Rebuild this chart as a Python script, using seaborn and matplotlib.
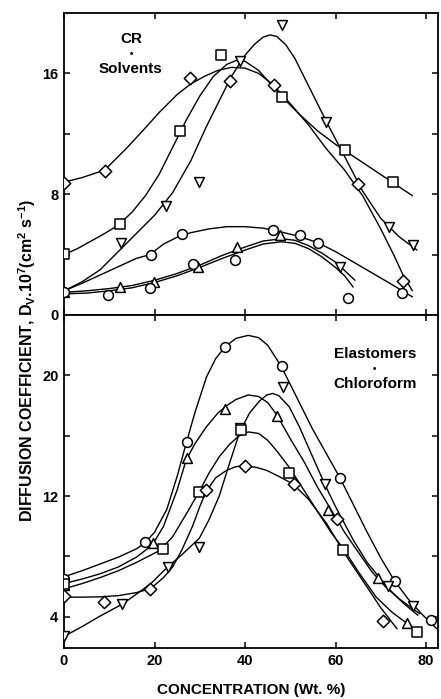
import matplotlib
matplotlib.use('Agg')
import matplotlib.pyplot as plt
import seaborn as sns

# ---------------- top panel: CR + solvents ----------------
# fitted curves
top_A_x = [0, 4, 9, 14, 18, 21, 25, 28, 31, 34, 37, 40, 43, 46, 50, 54, 58, 62, 66, 70, 73, 75, 77]
top_A_y = [8.8, 9.1, 9.6, 11.1, 12.4, 13.4, 14.6, 15.3, 15.8, 16.2, 16.4, 16.35, 16.0, 15.3, 14.0, 12.6, 11.0, 9.6, 7.9, 5.7, 3.9, 2.6, 1.6]
top_B_x = [0, 3, 6, 9, 12, 15, 18, 21, 24, 27, 30, 33, 36, 38, 40, 43, 46, 49, 52, 56, 60, 64, 68, 72, 77]
top_B_y = [4.0, 4.4, 4.9, 5.4, 5.95, 6.8, 7.9, 9.3, 11.1, 12.9, 14.5, 15.8, 16.6, 16.85, 16.8, 16.2, 15.2, 14.2, 13.3, 12.2, 11.3, 10.5, 9.7, 8.9, 7.9]
top_C_x = [0, 4, 8, 12, 16, 20, 24, 28, 31.5, 34, 37, 40, 42, 44, 45.5, 47, 49, 51, 54, 58, 62, 66, 70, 74, 78]
top_C_y = [1.6, 2.2, 3.0, 4.2, 5.4, 6.6, 8.1, 10.2, 12.5, 14.0, 15.8, 17.2, 17.9, 18.4, 18.55, 18.45, 17.9, 17.0, 15.2, 12.8, 10.5, 8.2, 6.4, 5.2, 4.3]
top_D_x = [0, 4, 8, 12, 16, 19, 22, 25, 28, 32, 36, 40, 44, 48, 52, 56, 60, 64, 68, 72, 77]
top_D_y = [1.6, 2.1, 2.65, 3.2, 3.75, 4.0, 4.7, 5.15, 5.45, 5.7, 5.85, 5.85, 5.75, 5.5, 5.2, 4.8, 4.2, 3.5, 2.8, 2.1, 1.2]
top_E_x = [0, 5, 10, 15, 20, 25, 30, 35, 40, 44, 48, 51, 54, 57, 60, 62, 64.3]
top_E_y = [1.5, 1.6, 1.75, 1.95, 2.3, 2.75, 3.3, 3.95, 4.5, 4.9, 5.05, 4.95, 4.6, 4.1, 3.5, 2.95, 2.3]
top_F_x = [0, 5, 10, 15, 20, 25, 30, 35, 40, 44, 48, 51, 54, 57, 60, 62, 63.9]
top_F_y = [1.4, 1.45, 1.6, 1.8, 2.15, 2.6, 3.15, 3.75, 4.3, 4.7, 4.85, 4.75, 4.4, 3.85, 3.15, 2.6, 1.85]

# measured points
top_dia_x = [0, 9.1, 27.8, 36.7, 46.3, 65.0, 75.0]
top_dia_y = [8.76, 9.56, 15.7, 15.5, 15.2, 8.65, 2.25]
top_sq_x = [0, 12.4, 25.6, 34.7, 48.1, 62.1, 72.8]
top_sq_y = [4.04, 6.03, 12.2, 17.2, 14.46, 10.9, 8.79]
top_dtri_x = [12.7, 22.5, 29.8, 38.9, 48.1, 58.0, 61.0, 71.8, 77.2]
top_dtri_y = [4.75, 7.2, 8.83, 16.8, 19.2, 12.8, 3.2, 5.85, 4.64]
top_utri_x = [0, 12.4, 19.9, 29.6, 38.2, 47.7]
top_utri_y = [1.55, 1.83, 2.2, 3.2, 4.52, 5.3]
top_circ_x = [0, 9.8, 18.9, 19.2, 26.0, 28.4, 37.8, 46.1, 52.2, 56.2, 62.8, 74.6]
top_circ_y = [1.5, 1.32, 1.77, 3.97, 5.34, 3.35, 3.64, 5.63, 5.3, 4.79, 1.1, 1.43]

# ---------------- bottom panel: elastomers + chloroform ----------------
bot_G_x = [0, 4, 8, 12, 16, 17.9, 20, 22.7, 25, 27, 29, 31.5, 33.5, 35.6, 38, 40.7, 43, 45, 48, 51, 55, 58, 61, 64, 67, 70, 73, 76, 79, 82.4]
bot_G_y = [6.65, 7.05, 7.5, 7.95, 8.5, 8.9, 9.6, 11.1, 13.3, 15.5, 17.6, 19.9, 21.1, 21.9, 22.45, 22.65, 22.5, 22.0, 20.6, 18.8, 16.4, 14.8, 13.2, 11.4, 9.6, 7.9, 6.4, 5.2, 4.2, 3.2]
bot_H_x = [0, 4, 8, 12, 16, 19.5, 22, 25, 27, 29, 31.5, 34, 36, 38, 40.7, 43, 45, 47, 50, 53, 56, 59, 62, 65, 68, 71, 74, 78.6]
bot_H_y = [6.2, 6.5, 6.85, 7.3, 7.95, 8.75, 10.0, 12.4, 14.4, 15.5, 16.6, 17.5, 18.0, 18.4, 18.7, 18.6, 18.2, 17.4, 15.8, 14.3, 12.6, 11.1, 9.6, 8.3, 7.0, 6.0, 5.2, 4.2]
bot_I_x = [0, 4, 8, 12.9, 16, 19.2, 22.9, 26, 29.9, 32, 34.3, 36.5, 38.9, 41, 43.2, 44.8, 46.1, 47.5, 49.8, 52, 54.5, 57.6, 60, 63.9, 67, 71.6, 75, 78.2]
bot_I_y = [2.7, 3.35, 4.05, 4.84, 5.5, 6.2, 7.3, 8.1, 9.2, 10.4, 12.0, 14.1, 16.3, 17.5, 18.3, 18.7, 18.8, 18.65, 17.9, 16.6, 14.9, 12.8, 11.3, 9.1, 7.6, 5.9, 4.9, 4.1]
bot_K_x = [0, 4, 8, 12, 16, 21.2, 24, 27, 29.9, 32, 34.3, 36.5, 38.5, 40.7, 43, 45, 47, 49.8, 53, 56.4, 59, 62, 65, 69, 72.5, 76.5]
bot_K_y = [5.85, 6.2, 6.6, 7.05, 7.6, 8.4, 9.3, 10.8, 12.3, 13.5, 14.6, 15.4, 15.95, 16.25, 16.15, 15.7, 15.0, 13.9, 12.4, 10.8, 9.6, 8.4, 7.0, 5.3, 4.3, 3.4]
bot_J_x = [0, 4, 8, 12, 16, 19.2, 22, 24, 26, 28.4, 30, 31.4, 33.5, 35.9, 38, 40.1, 42.5, 44.8, 47.5, 50.6, 54, 58, 62, 66.9, 70, 73.6]
bot_J_y = [5.3, 5.3, 5.32, 5.4, 5.6, 5.88, 6.6, 7.3, 8.4, 10.0, 11.3, 12.3, 13.2, 13.7, 13.95, 14.0, 13.9, 13.7, 13.3, 12.8, 11.8, 10.2, 8.2, 6.0, 4.6, 3.2]

bot_circ_x = [0, 17.9, 27.1, 35.6, 48.1, 61.0, 73.1, 81.0]
bot_circ_y = [6.5, 8.97, 15.6, 21.9, 20.6, 13.2, 6.4, 3.8]
bot_utri_x = [0, 19.6, 27.1, 35.6, 47.0, 58.4, 69.5, 75.7]
bot_utri_y = [6.1, 8.86, 14.5, 17.8, 17.3, 11.1, 6.6, 3.6]
bot_dtri_x = [0, 12.9, 22.9, 29.9, 38.9, 48.3, 57.6, 71.7, 77.2]
bot_dtri_y = [2.7, 4.84, 7.3, 8.64, 16.5, 19.2, 12.8, 6.03, 4.73]
bot_sq_x = [0, 21.8, 29.9, 39.1, 49.8, 61.7, 77.9]
bot_sq_y = [6.2, 8.5, 12.3, 16.4, 13.5, 8.4, 3.0]
bot_dia_x = [0, 8.9, 19.1, 31.4, 40.1, 50.8, 60.3, 70.6]
bot_dia_y = [5.35, 5.0, 5.85, 12.4, 14.0, 12.8, 10.45, 3.74]

x_ticks = [0, 20, 40, 60, 80]
top_yticks = [0, 4, 8, 12, 16]
top_yticklabels = ['0', '', '8', '', '16']
bot_yticks = [4, 8, 12, 16, 20]
bot_yticklabels = ['4', '', '12', '', '20']

# ---------------- style ----------------
sns.set_style('ticks', {'xtick.direction': 'in', 'ytick.direction': 'in'})
plt.rcParams['font.family'] = ['Liberation Sans', 'DejaVu Sans']
plt.rcParams['font.weight'] = 'bold'
plt.rcParams['mathtext.fontset'] = 'custom'
plt.rcParams['mathtext.rm'] = 'Liberation Sans:bold'
plt.rcParams['mathtext.it'] = 'Liberation Sans:bold'
plt.rcParams['mathtext.bf'] = 'Liberation Sans:bold'
for k in ['text.color', 'axes.labelcolor', 'xtick.color', 'ytick.color',
          'axes.edgecolor', 'xtick.labelcolor', 'ytick.labelcolor']:
    plt.rcParams[k] = 'black'

W, H = 441, 699
fig = plt.figure(figsize=(W / 100, H / 100), dpi=100)
L, R = 64, 438
ax1 = fig.add_axes([L / W, 1 - 315 / H, (R - L) / W, (315 - 13) / H])
ax2 = fig.add_axes([L / W, 1 - 648 / H, (R - L) / W, (648 - 315) / H])


def curve(ax, x, y):
    sns.lineplot(x=x, y=y, ax=ax, color='black', linewidth=1.0, sort=False,
                 estimator=None, zorder=2)


def pts(ax, x, y, m, s):
    sns.scatterplot(x=x, y=y, ax=ax, marker=m, s=s, color='white',
                    edgecolor='black', linewidth=1.1, zorder=3)


for cx, cy in [(top_A_x, top_A_y), (top_B_x, top_B_y), (top_C_x, top_C_y),
               (top_D_x, top_D_y), (top_E_x, top_E_y), (top_F_x, top_F_y)]:
    curve(ax1, cx, cy)
pts(ax1, top_dia_x, top_dia_y, 'D', 40)
pts(ax1, top_sq_x, top_sq_y, 's', 50)
pts(ax1, top_dtri_x, top_dtri_y, 'v', 50)
pts(ax1, top_utri_x, top_utri_y, '^', 50)
pts(ax1, top_circ_x, top_circ_y, 'o', 50)

for cx, cy in [(bot_G_x, bot_G_y), (bot_H_x, bot_H_y), (bot_I_x, bot_I_y),
               (bot_K_x, bot_K_y), (bot_J_x, bot_J_y)]:
    curve(ax2, cx, cy)
pts(ax2, bot_circ_x, bot_circ_y, 'o', 50)
pts(ax2, bot_utri_x, bot_utri_y, '^', 50)
pts(ax2, bot_dtri_x, bot_dtri_y, 'v', 50)
pts(ax2, bot_sq_x, bot_sq_y, 's', 50)
pts(ax2, bot_dia_x, bot_dia_y, 'D', 40)

for ax in (ax1, ax2):
    ax.set_xlim(0, 82.65)
    ax.set_xticks(x_ticks)
    ax.tick_params(direction='in', length=4, width=1.1, top=True, right=True,
                   labelsize=10.5, pad=4, colors='black')
    for sp in ax.spines.values():
        sp.set_visible(True)
        sp.set_linewidth(1.3)
        sp.set_color('black')
    ax.set_xlabel('')
    ax.set_ylabel('')

ax1.set_ylim(0, 20)
ax1.set_yticks(top_yticks)
ax1.set_yticklabels(top_yticklabels)
ax1.tick_params(labelbottom=False)

ax2.set_ylim(1.93, 24)
ax2.set_yticks(bot_yticks)
ax2.set_yticklabels(bot_yticklabels)
ax2.set_xticklabels([str(v) for v in x_ticks])

ax1.text(14.8, 18.3, 'CR', ha='center', va='center', fontsize=11, fontweight='bold')
ax1.text(14.8, 17.3, '•', ha='center', va='center', fontsize=7, fontweight='bold')
ax1.text(14.8, 16.3, 'Solvents', ha='center', va='center', fontsize=11, fontweight='bold')

ax2.text(68.7, 21.4, 'Elastomers', ha='center', va='center', fontsize=11, fontweight='bold')
ax2.text(68.7, 20.4, '•', ha='center', va='center', fontsize=7, fontweight='bold')
ax2.text(68.7, 19.4, 'Chloroform', ha='center', va='center', fontsize=11, fontweight='bold')

fig.text(251 / W, 1 - 690 / H, 'CONCENTRATION (Wt. %)', ha='center', va='center',
         fontsize=11, fontweight='bold')
fig.text(27 / W, 1 - 360 / H,
         r'DIFFUSION COEFFICIENT, D$_{V}$.10$^{7}$(cm$^{2}$ s$^{-1}$)',
         ha='center', va='center', rotation=90, fontsize=11.5, fontweight='bold')

fig.savefig('out.png', dpi=100)
